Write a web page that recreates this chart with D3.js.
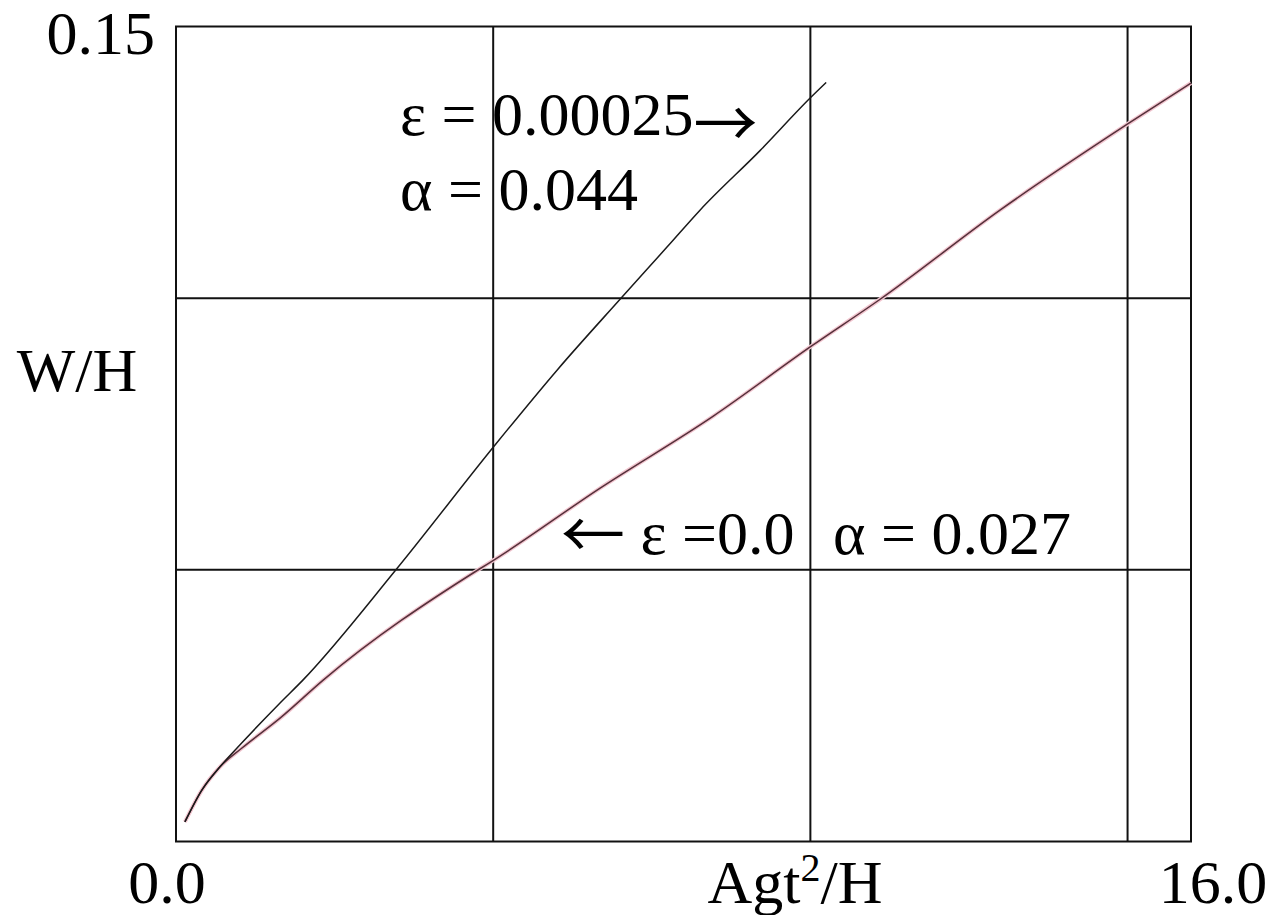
<!DOCTYPE html>
<html>
<head>
<meta charset="utf-8">
<script src="https://cdn.jsdelivr.net/npm/d3@7"></script>
<style>
  html, body { margin: 0; padding: 0; background: #fff; }
  svg { display: block; }
</style>
</head>
<body>
<svg id="chart" width="1274" height="915"></svg>
<script>
// Axis ranges and grid positions
const xDomain = [0, 16];
const yDomain = [0, 0.15];
const gridX = [5, 10, 15];
const gridY = [0.05, 0.10];
const xTickLabels = [{ v: 0, label: "0.0" }, { v: 16, label: "16.0" }];
const yTickLabels = [{ v: 0.15, label: "0.15" }];

// Growth curve, eps = 0.00025 (alpha = 0.044)
const epsSmallX = [0.14, 0.41, 0.69, 1.01, 1.64, 2.00, 3.48, 5.01, 6.01, 7.00, 7.74, 8.26, 9.21, 10.02, 10.25];
const epsSmallY = [0.0036, 0.0095, 0.0137, 0.0178, 0.0255, 0.0297, 0.0502, 0.0727, 0.0868, 0.0998, 0.1094, 0.1162, 0.1272, 0.1371, 0.1397];

// Growth curve, eps = 0.0 (alpha = 0.027)
const epsZeroX = [0.14, 0.41, 0.69, 1.04, 1.64, 2.32, 4.79, 5.01, 6.68, 8.47, 10.02, 11.10, 13.00, 15.02, 16.00];
const epsZeroY = [0.0036, 0.0095, 0.0137, 0.0172, 0.0227, 0.0297, 0.0502, 0.0518, 0.0650, 0.0783, 0.0912, 0.0998, 0.1163, 0.1322, 0.1396];

const SERIF = "'Liberation Serif', 'Times New Roman', Times, serif";
const ARROW = "'Noto Sans CJK JP', 'DejaVu Sans', sans-serif";
const svg = d3.select("#chart");
const plot = { left: 176, right: 1191, top: 26.5, bottom: 841.5 };

const x = d3.scaleLinear().domain(xDomain).range([plot.left, plot.right]);
const y = d3.scaleLinear().domain(yDomain).range([plot.bottom, plot.top]);

// Grid lines
svg.append("g").selectAll("line").data(gridX).join("line")
  .attr("x1", d => x(d)).attr("x2", d => x(d))
  .attr("y1", plot.top).attr("y2", plot.bottom)
  .attr("stroke", "#111").attr("stroke-width", 2);
svg.append("g").selectAll("line").data(gridY).join("line")
  .attr("x1", plot.left).attr("x2", plot.right)
  .attr("y1", d => y(d)).attr("y2", d => y(d))
  .attr("stroke", "#111").attr("stroke-width", 2);

// Plot frame
svg.append("rect")
  .attr("x", plot.left).attr("y", plot.top)
  .attr("width", plot.right - plot.left).attr("height", plot.bottom - plot.top)
  .attr("fill", "none").attr("stroke", "#111").attr("stroke-width", 2);

const line = d3.line().curve(d3.curveMonotoneX)
  .x(d => x(d[0])).y(d => y(d[1]));
const zeroPts = d3.zip(epsZeroX, epsZeroY);
const smallPts = d3.zip(epsSmallX, epsSmallY);

// eps = 0 curve: pink halo under a dark line
svg.append("path").datum(zeroPts).attr("d", line)
  .attr("fill", "none").attr("stroke", "#f2c6d0").attr("stroke-width", 4);
svg.append("path").datum(zeroPts).attr("d", line)
  .attr("fill", "none").attr("stroke", "#55303a").attr("stroke-width", 1.5);

// eps = 0.00025 curve
svg.append("path").datum(smallPts).attr("d", line)
  .attr("fill", "none").attr("stroke", "#1a1a1a").attr("stroke-width", 1.5);

// Text helper
const fs = 62;
function label(x0, y0, anchor) {
  return svg.append("text")
    .attr("x", x0).attr("y", y0)
    .attr("text-anchor", anchor || "start")
    .attr("font-family", SERIF).attr("font-size", fs).attr("fill", "#000");
}

// Tick labels
svg.append("g").selectAll("text").data(yTickLabels).join("text")
  .attr("x", plot.left - 21).attr("y", d => y(d.v) + 27)
  .attr("text-anchor", "end").attr("font-family", SERIF).attr("font-size", fs)
  .text(d => d.label);
svg.append("g").selectAll("text").data(xTickLabels).join("text")
  .attr("x", d => x(d.v) + (d.v === 0 ? -9 : 22)).attr("y", 903)
  .attr("text-anchor", "middle").attr("font-family", SERIF).attr("font-size", fs)
  .text(d => d.label);

// Axis titles
label(77, 391, "middle").text("W/H");
const xt = label(795, 903, "middle");
xt.append("tspan").text("Agt");
xt.append("tspan").attr("font-size", 40).attr("dy", -22).text("2");
xt.append("tspan").attr("dy", 22).text("/H");

// Curve annotations
const a1 = label(400, 135);
a1.append("tspan").text("ε = 0.00025");
a1.append("tspan").attr("font-family", ARROW).attr("font-size", 64).attr("dy", 12).text("→");
label(400, 210).text("α = 0.044");
const a2 = label(561, 554);
a2.append("tspan").attr("font-family", ARROW).attr("font-size", 64).attr("dy", 4).text("←");
a2.append("tspan").attr("dy", -4).text(" ε =0.0");
label(833, 554).text("α = 0.027");
</script>
</body>
</html>
